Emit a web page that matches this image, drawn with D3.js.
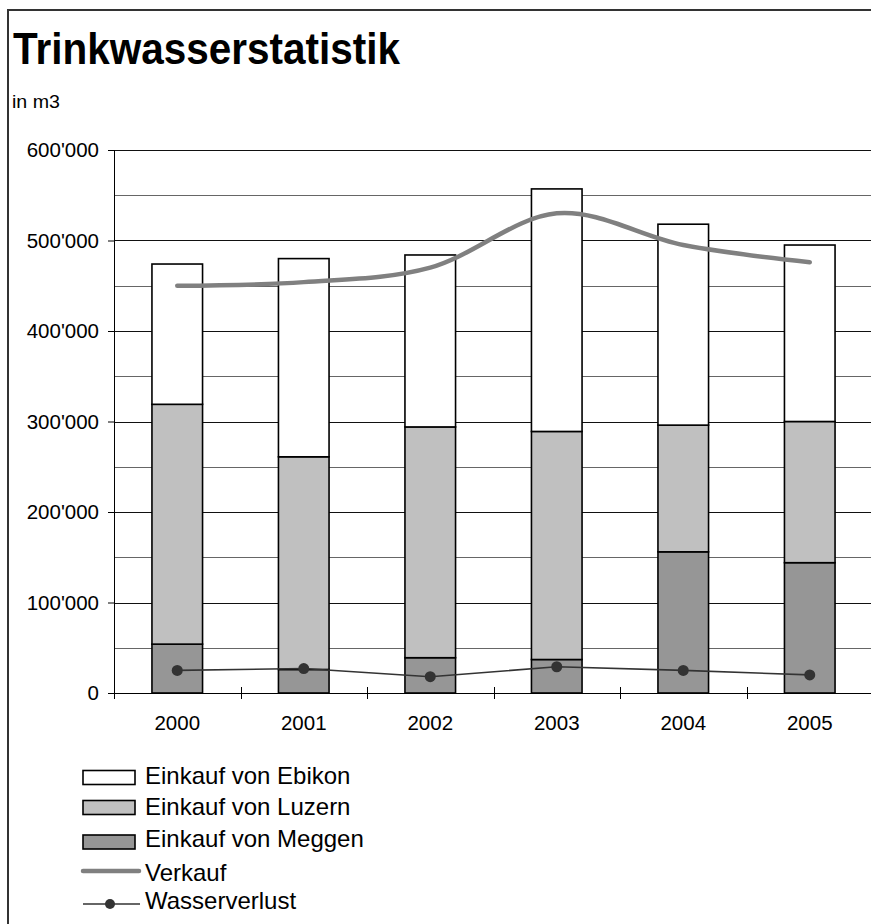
<!DOCTYPE html>
<html><head><meta charset="utf-8">
<script src="https://cdn.jsdelivr.net/npm/d3@7"></script>
<style>
html,body{margin:0;padding:0;background:#fff;}
svg{display:block;font-family:"Liberation Sans",Arial,sans-serif;}
</style></head>
<body>
<svg id="c" width="871" height="924"></svg>
<script>
const years = ["2000","2001","2002","2003","2004","2005"];
const meggen = [54000, 26000, 39000, 37000, 156000, 144000];
const luzern = [265000, 235000, 255000, 252000, 140000, 156000];
const ebikon = [155000, 219000, 190000, 268000, 222000, 195000];
const verkauf = [450000, 454000, 470000, 530000, 495000, 476000];
const verlust = [25000, 27000, 18000, 29000, 25000, 20000];
const yTicks = [0,100000,200000,300000,400000,500000,600000];
const gridVals = [50000,100000,150000,200000,250000,300000,350000,400000,450000,500000,550000,600000];
const seriesNames = ["Einkauf von Ebikon","Einkauf von Luzern","Einkauf von Meggen","Verkauf","Wasserverlust"];
const barColors = {ebikon:"#ffffff", luzern:"#c0c0c0", meggen:"#969696"};

const svg = d3.select("#c");
// frame
svg.append("rect").attr("x",8).attr("y",10).attr("width",900).attr("height",950)
  .attr("fill","none").attr("stroke","#333").attr("stroke-width",2);

// title
svg.append("text").attr("x",13).attr("y",64).attr("font-size",44).attr("font-weight","bold")
  .attr("textLength",387).attr("lengthAdjust","spacingAndGlyphs").text("Trinkwasserstatistik");
svg.append("text").attr("x",12).attr("y",108).attr("font-size",19)
  .attr("textLength",48).attr("lengthAdjust","spacingAndGlyphs").text("in m3");

const L=114, R=873, T=150, B=693;
const x = d3.scaleBand().domain(years).range([L,R]).paddingInner(0.6).paddingOuter(0.3);
const y = d3.scaleLinear().domain([0,600000]).range([B,T]);

// gridlines
svg.append("g").selectAll("line").data(gridVals).join("line")
  .attr("x1",L).attr("x2",R).attr("y1",d=>Math.round(y(d))+0.5).attr("y2",d=>Math.round(y(d))+0.5)
  .attr("stroke",d=>d%100000===0?"#111":"#666").attr("stroke-width",1);

// bars
const stackData = years.map((yr,i)=>({yr, meggen:meggen[i], luzern:luzern[i], ebikon:ebikon[i]}));
const stack = d3.stack().keys(["meggen","luzern","ebikon"])(stackData);
svg.append("g").selectAll("g").data(stack).join("g")
  .attr("fill",d=>barColors[d.key])
  .selectAll("rect").data(d=>d).join("rect")
  .attr("x",d=>x(d.data.yr)).attr("width",x.bandwidth())
  .attr("y",d=>y(d[1])).attr("height",d=>y(d[0])-y(d[1]))
  .attr("stroke","#000").attr("stroke-width",1.6);

// axes
const yAxis = d3.axisLeft(y).tickValues(yTicks).tickSizeInner(6).tickSizeOuter(0)
  .tickFormat(d=>d3.format(",")(d).replace(/,/g,"'"));
const ga = svg.append("g").attr("transform",`translate(${L},0)`).call(yAxis);
ga.select(".domain").remove();
ga.selectAll(".tick line").attr("stroke","#000");
ga.selectAll(".tick text").attr("font-size",20.5).attr("x",-15).attr("fill","#000")
  .attr("font-family","Liberation Sans, Arial, sans-serif");
svg.append("line").attr("x1",L+0.5).attr("x2",L+0.5).attr("y1",T).attr("y2",B+6).attr("stroke","#000");
svg.append("line").attr("x1",L).attr("x2",R).attr("y1",B+0.5).attr("y2",B+0.5).attr("stroke","#000");
// x ticks at band boundaries
const bounds = years.map(d=>x(d)-x.step()*x.paddingInner()/2).concat([R]);
svg.append("g").selectAll("line").data(bounds).join("line")
  .attr("x1",d=>Math.round(d)+0.5).attr("x2",d=>Math.round(d)+0.5).attr("y1",B-6).attr("y2",B+6).attr("stroke","#000");
svg.append("g").selectAll("text").data(years).join("text")
  .attr("x",d=>x(d)+x.bandwidth()/2).attr("y",730).attr("text-anchor","middle").attr("font-size",20.5).text(d=>d);

// Verkauf line
const cx = i=>x(years[i])+x.bandwidth()/2;
svg.append("path").datum(verkauf)
  .attr("d",d3.line().x((d,i)=>cx(i)).y(d=>y(d)).curve(d3.curveCardinal.tension(0)))
  .attr("fill","none").attr("stroke","#808080").attr("stroke-width",4.5).attr("stroke-linecap","round");

// Wasserverlust line
svg.append("path").datum(verlust)
  .attr("d",d3.line().x((d,i)=>cx(i)).y(d=>y(d)))
  .attr("fill","none").attr("stroke","#333").attr("stroke-width",1.6);
svg.append("g").selectAll("circle").data(verlust).join("circle")
  .attr("cx",(d,i)=>cx(i)).attr("cy",d=>y(d)).attr("r",5.5).attr("fill","#333");

// legend
const lg = svg.append("g");
const baseY = [783.5, 814.5, 847, 880.5, 908.5];
const markY = [777.5, 807.5, 842, 871, 904];
const swFill = [barColors.ebikon, barColors.luzern, barColors.meggen];
seriesNames.forEach((name,i)=>{
  const cy = markY[i];
  if(i<3){
    lg.append("rect").attr("x",83).attr("y",cy-7).attr("width",52).attr("height",14)
      .attr("fill",swFill[i]).attr("stroke","#000").attr("stroke-width",1.6);
  } else if(i===3){
    lg.append("line").attr("x1",83).attr("x2",139).attr("y1",cy).attr("y2",cy)
      .attr("stroke","#808080").attr("stroke-width",4.5).attr("stroke-linecap","round");
  } else {
    lg.append("line").attr("x1",83).attr("x2",140).attr("y1",cy).attr("y2",cy)
      .attr("stroke","#333").attr("stroke-width",1.6);
    lg.append("circle").attr("cx",110).attr("cy",cy).attr("r",5).attr("fill","#333");
  }
  lg.append("text").attr("x",145).attr("y",baseY[i]).attr("font-size",24).text(name);
});
</script>
</body></html>
